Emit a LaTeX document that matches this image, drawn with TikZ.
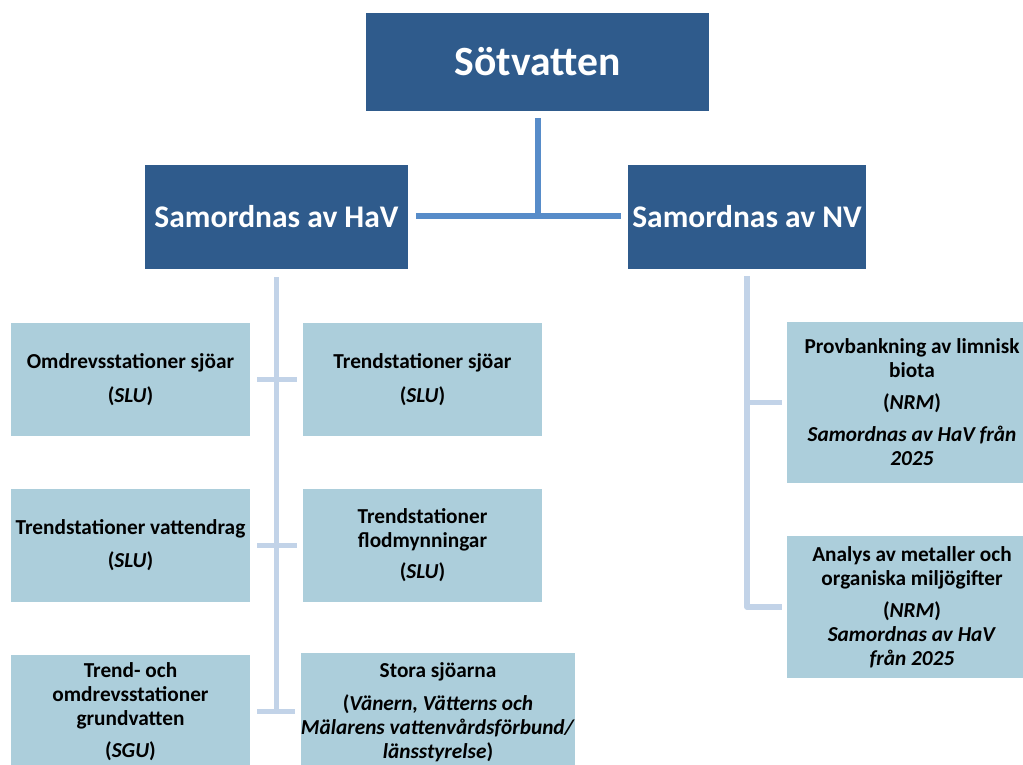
\documentclass[tikz,border=0pt]{standalone}
\usepackage{fontspec}
\setmainfont{Carlito}
\definecolor{hdr}{HTML}{2F5B8C}
\definecolor{leaf}{HTML}{ACCEDB}
\definecolor{midline}{HTML}{578CC9}
\definecolor{litline}{HTML}{C2D3E8}
\tikzset{
  hdrbox/.style={fill=hdr, draw=none, text=white, font=\bfseries, align=center, inner sep=0pt},
  leafbox/.style={fill=leaf, draw=none, text=black, align=center, inner sep=0pt,
     font=\fontsize{21.3}{24}\selectfont\bfseries},
  midconn/.style={draw=midline, line width=5.5pt},
  litconn/.style={draw=litline, line width=5.5pt, line join=round},
}
\begin{document}
\begin{tikzpicture}[x=1pt,y=-1pt]
\useasboundingbox (0,0) rectangle (1023,764);
\clip (0,0) rectangle (1023,764);
\fill[white] (0,0) rectangle (1023,764);

% headers
\node[hdrbox, minimum width=343pt, minimum height=98pt, font=\fontsize{41.6}{48}\selectfont\bfseries] (top) at (537.5,62) {Sötvatten};
\node[hdrbox, minimum width=263pt, minimum height=104pt, font=\fontsize{31.5}{36}\selectfont\bfseries] (hav) at (276.5,217) {Samordnas av HaV};
\node[hdrbox, minimum width=238pt, minimum height=104pt, font=\fontsize{31.5}{36}\selectfont\bfseries] (nv) at (747,217) {Samordnas av NV};

% HaV leaves
\node[leafbox, minimum width=239pt, minimum height=113pt] (l1) at (130.5,379.5) {Omdrevsstationer sjöar\\[10pt](\textit{SLU})};
\node[leafbox, minimum width=239pt, minimum height=113pt] (l2) at (130.5,545.5) {Trendstationer vattendrag\\[9pt](\textit{SLU})};
\node[leafbox, minimum width=239pt, minimum height=113pt] (l3) at (130.5,711.5) {Trend- och\\omdrevsstationer\\grundvatten\\[8pt](\textit{SGU})};
\node[leafbox, minimum width=239pt, minimum height=113pt] (r1) at (422.5,379.5) {Trendstationer sjöar\\[10pt](\textit{SLU})};
\node[leafbox, minimum width=239pt, minimum height=113pt] (r2) at (422.5,545.5) {Trendstationer\\flodmynningar\\[7pt](\textit{SLU})};
\node[leafbox, minimum width=274pt, minimum height=118pt] (r3) at (438,712) {Stora sjöarna\\[9pt](\textit{Vänern, Vätterns och}\\\textit{Mälarens vattenvårdsförbund/}\\\textit{länsstyrelse})};

% NV leaves
\node[leafbox, minimum width=250pt, minimum height=161pt] (n1) at (912,402.5) {Provbankning av limnisk\\biota\\[8pt](\textit{NRM})\\[8pt]\textit{Samordnas av HaV från}\\\textit{2025}};
\node[leafbox, minimum width=250pt, minimum height=142pt] (n2) at (912,607) {Analys av metaller och\\organiska miljögifter\\[8pt](\textit{NRM})\\\textit{Samordnas av HaV}\\\textit{från 2025}};

% top connectors
\coordinate (j) at (538,216);
\draw[midconn] ([yshift=-7pt]top.south -| j) -- (j);
\draw[midconn] ([xshift=8pt]hav.east |- j) -- ([xshift=-7pt]nv.west |- j);

% HaV tree
\draw[litconn] ([yshift=-8pt]hav.south) -- (hav.south |- l3.east);
\draw[litconn] ([xshift=7pt]l1.east) -- ([xshift=-6pt]r1.west);
\draw[litconn] ([xshift=7pt]l2.east) -- ([xshift=-6pt]r2.west);
\draw[litconn] ([xshift=7pt]l3.east) -- ([xshift=-6pt]r3.west |- l3.east);

% NV tree
\draw[litconn] ([yshift=-7pt]nv.south) |- ([xshift=-5pt]n2.west);
\draw[litconn] (nv.south |- n1.west) -- ([xshift=-5pt]n1.west);
\end{tikzpicture}
\end{document}
